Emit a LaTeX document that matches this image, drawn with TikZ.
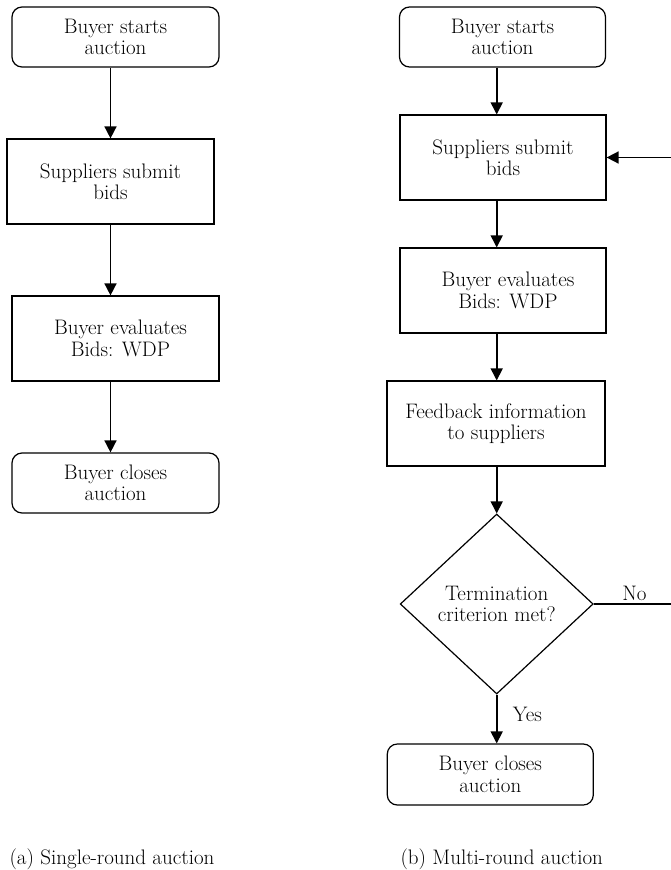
\documentclass[tikz,border=0pt]{standalone}
\usepackage{fontspec}
\usetikzlibrary{shapes.geometric,arrows.meta}
\tikzset{
  base/.style={draw=black, line width=1.2pt, align=center, inner sep=0pt,
    font=\fontsize{21}{21.5}\selectfont},
  roundbox/.style={base, rounded corners=10pt, minimum width=207pt, minimum height=60pt},
  sqbox/.style={base, minimum width=207pt, minimum height=85pt},
  decision/.style={base, diamond, minimum width=193pt, minimum height=180pt},
  flow/.style={line width=1.6pt, -{Triangle[length=12pt,width=12pt]}},
  plain/.style={line width=1.3pt},
  lbl/.style={inner sep=0pt, font=\fontsize{21}{21.5}\selectfont}
}
\begin{document}
\begin{tikzpicture}[x=1pt,y=-1pt]
\useasboundingbox (0,0) rectangle (671,870);
% left column
\node[roundbox] (L1) at (115.5,37) {Buyer starts\\auction};
\node[sqbox] (L2) at (110.5,181.5) {Suppliers submit\\bids};
\node[sqbox] (L3) at (115.5,338.5) {\hspace*{10pt}Buyer evaluates\\\hspace*{10pt}Bids: WDP};
\node[roundbox] (L4) at (115.5,483) {Buyer closes\\auction};
\draw[flow] (L1.south -| L2.north) -- (L2.north);
\draw[flow] (L2.south) -- (L2.south |- L3.north);
\draw[flow] (L3.south -| L2.south) -- (L4.north -| L2.south);
% right column
\node[roundbox, minimum width=206pt] (R1) at (502.5,37) {Buyer starts\\auction};
\node[sqbox, minimum width=206pt] (R2) at (503,157.5) {Suppliers submit\\bids};
\node[sqbox, minimum width=206pt] (R3) at (503,290.5) {\hspace*{10pt}Buyer evaluates\\\hspace*{10pt}Bids: WDP};
\node[sqbox, minimum width=218pt] (R4) at (496,423.5) {Feedback information\\to suppliers};
\node[decision] (D) at (496.7,604) {Termination\\criterion met?};
\node[roundbox, minimum width=206pt, minimum height=61pt] (R5) at (490.3,774.5) {Buyer closes\\auction};
\draw[flow] (R1.south -| D.north) -- (R2.north -| D.north);
\draw[flow] (R2.south -| D.north) -- (R3.north -| D.north);
\draw[flow] (R3.south -| D.north) -- (R4.north -| D.north);
\draw[flow] (R4.south -| D.north) -- (D.north);
\draw[flow] (D.south) -- (R5.north -| D.south);
\coordinate (E) at (690,604);
\draw[plain] (D.east) -- (D.east -| E) |- (R2.east -| E);
\draw[flow] (R2.east -| E) -- (R2.east);
\node[lbl, anchor=base] (no) at (634.5,600) {No};
\node[lbl, anchor=base west] (yes) at (512.7,721.7) {Yes};
% captions
\node[lbl, anchor=base] (capa) at (112,864) {(a) Single-round auction};
\node[lbl, anchor=base] (capb) at (501.7,864) {(b) Multi-round auction};
\end{tikzpicture}
\end{document}
